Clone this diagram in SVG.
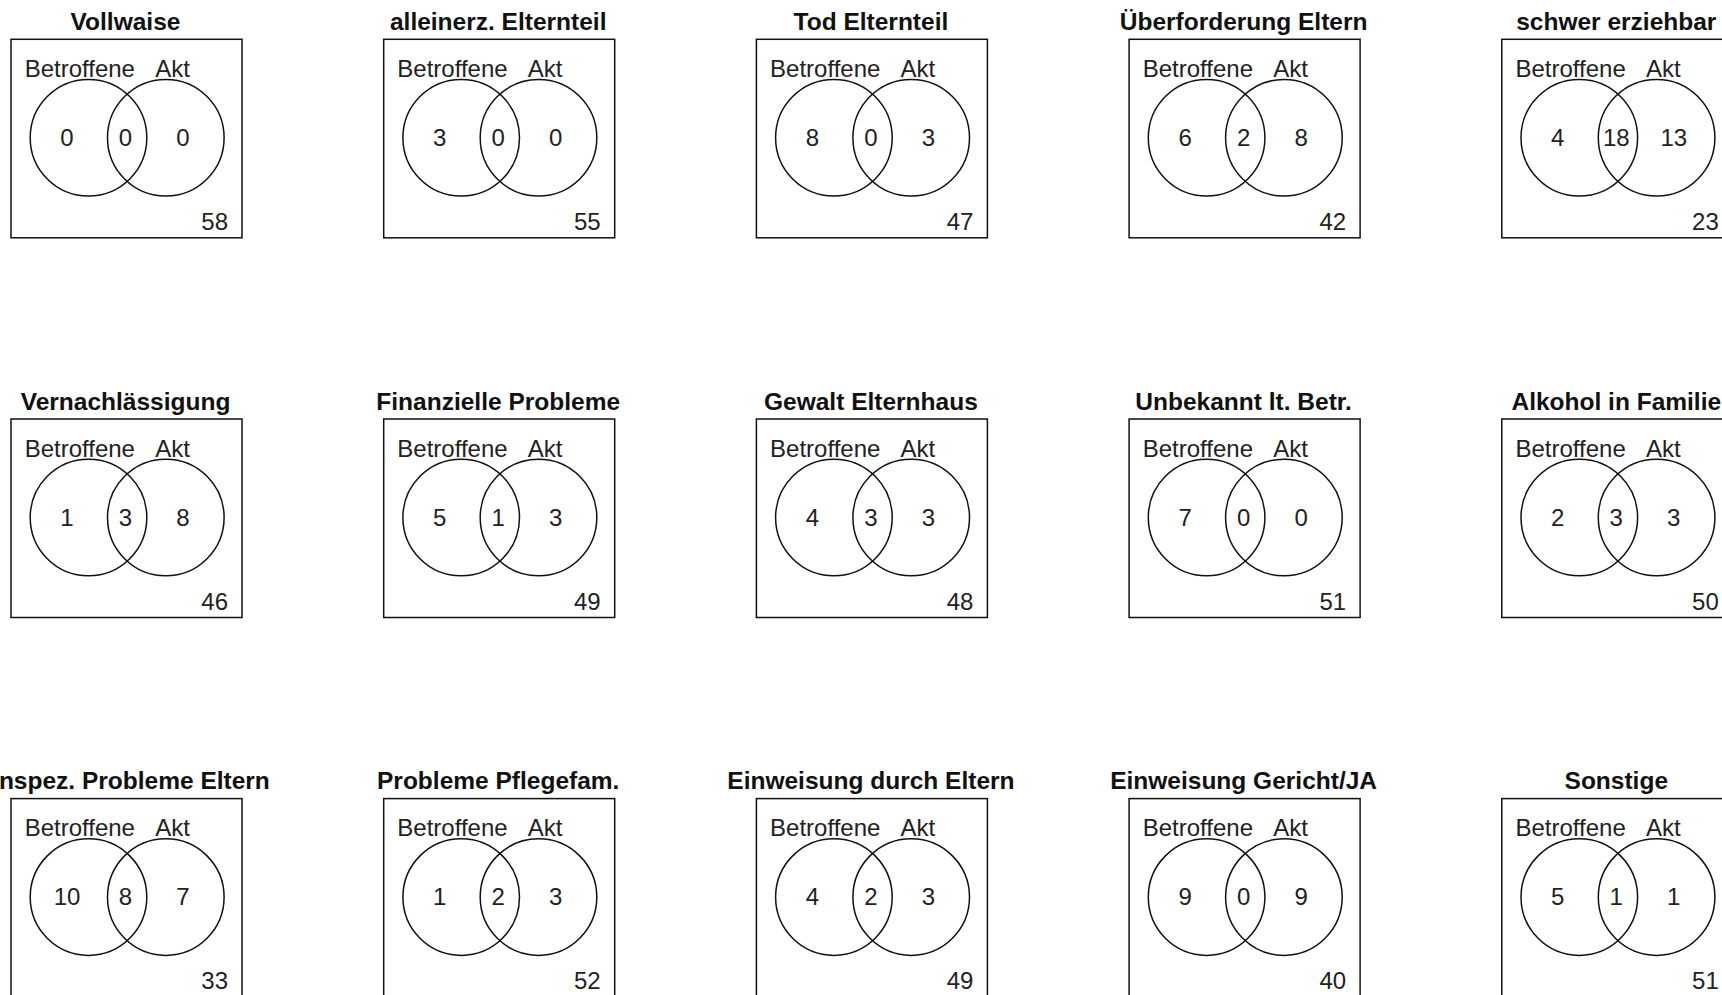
<svg xmlns="http://www.w3.org/2000/svg" width="1722" height="995" viewBox="0 0 1722 995">
  <style>
    text { font-family: "Liberation Sans", Arial, sans-serif; fill: #222; }
    .title { font-size: 24.5px; font-weight: bold; text-anchor: middle; fill: #111; }
    .set { font-size: 24px; text-anchor: middle; }
    .num { font-size: 24px; text-anchor: middle; }
    .rest { font-size: 24px; text-anchor: end; }
    .frame { fill: none; stroke: #111; stroke-width: 1.5; }
    .circ { fill: none; stroke: #111; stroke-width: 1.5; }
  </style>
  <rect width="1722" height="995" fill="#fff"/>

  <!-- Row 1 -->
  <g id="vollwaise" transform="translate(11,39.3)">
    <text class="title" x="114.5" y="-9.5">Vollwaise</text>
    <rect class="frame" x="0" y="0" width="231" height="198.5"/>
    <circle class="circ" cx="77.5" cy="98.5" r="58.3"/>
    <circle class="circ" cx="154.8" cy="98.5" r="58.3"/>
    <text class="set" x="68.8" y="37.5">Betroffene</text>
    <text class="set" x="161.5" y="37.5">Akt</text>
    <text class="num" x="56" y="106.5">0</text>
    <text class="num" x="114.5" y="106.5">0</text>
    <text class="num" x="172" y="106.5">0</text>
    <text class="rest" x="217" y="190.5">58</text>
  </g>

  <g id="alleinerz-elternteil" transform="translate(383.7,39.3)">
    <text class="title" x="114.5" y="-9.5">alleinerz. Elternteil</text>
    <rect class="frame" x="0" y="0" width="231" height="198.5"/>
    <circle class="circ" cx="77.5" cy="98.5" r="58.3"/>
    <circle class="circ" cx="154.8" cy="98.5" r="58.3"/>
    <text class="set" x="68.8" y="37.5">Betroffene</text>
    <text class="set" x="161.5" y="37.5">Akt</text>
    <text class="num" x="56" y="106.5">3</text>
    <text class="num" x="114.5" y="106.5">0</text>
    <text class="num" x="172" y="106.5">0</text>
    <text class="rest" x="217" y="190.5">55</text>
  </g>

  <g id="tod-elternteil" transform="translate(756.4,39.3)">
    <text class="title" x="114.5" y="-9.5">Tod Elternteil</text>
    <rect class="frame" x="0" y="0" width="231" height="198.5"/>
    <circle class="circ" cx="77.5" cy="98.5" r="58.3"/>
    <circle class="circ" cx="154.8" cy="98.5" r="58.3"/>
    <text class="set" x="68.8" y="37.5">Betroffene</text>
    <text class="set" x="161.5" y="37.5">Akt</text>
    <text class="num" x="56" y="106.5">8</text>
    <text class="num" x="114.5" y="106.5">0</text>
    <text class="num" x="172" y="106.5">3</text>
    <text class="rest" x="217" y="190.5">47</text>
  </g>

  <g id="ueberforderung-eltern" transform="translate(1129.1,39.3)">
    <text class="title" x="114.5" y="-9.5">Überforderung Eltern</text>
    <rect class="frame" x="0" y="0" width="231" height="198.5"/>
    <circle class="circ" cx="77.5" cy="98.5" r="58.3"/>
    <circle class="circ" cx="154.8" cy="98.5" r="58.3"/>
    <text class="set" x="68.8" y="37.5">Betroffene</text>
    <text class="set" x="161.5" y="37.5">Akt</text>
    <text class="num" x="56" y="106.5">6</text>
    <text class="num" x="114.5" y="106.5">2</text>
    <text class="num" x="172" y="106.5">8</text>
    <text class="rest" x="217" y="190.5">42</text>
  </g>

  <g id="schwer-erziehbar" transform="translate(1501.8,39.3)">
    <text class="title" x="114.5" y="-9.5">schwer erziehbar</text>
    <rect class="frame" x="0" y="0" width="231" height="198.5"/>
    <circle class="circ" cx="77.5" cy="98.5" r="58.3"/>
    <circle class="circ" cx="154.8" cy="98.5" r="58.3"/>
    <text class="set" x="68.8" y="37.5">Betroffene</text>
    <text class="set" x="161.5" y="37.5">Akt</text>
    <text class="num" x="56" y="106.5">4</text>
    <text class="num" x="114.5" y="106.5">18</text>
    <text class="num" x="172" y="106.5">13</text>
    <text class="rest" x="217" y="190.5">23</text>
  </g>

  <!-- Row 2 -->
  <g id="vernachlaessigung" transform="translate(11,419)">
    <text class="title" x="114.5" y="-9.5">Vernachlässigung</text>
    <rect class="frame" x="0" y="0" width="231" height="198.5"/>
    <circle class="circ" cx="77.5" cy="98.5" r="58.3"/>
    <circle class="circ" cx="154.8" cy="98.5" r="58.3"/>
    <text class="set" x="68.8" y="37.5">Betroffene</text>
    <text class="set" x="161.5" y="37.5">Akt</text>
    <text class="num" x="56" y="106.5">1</text>
    <text class="num" x="114.5" y="106.5">3</text>
    <text class="num" x="172" y="106.5">8</text>
    <text class="rest" x="217" y="190.5">46</text>
  </g>

  <g id="finanzielle-probleme" transform="translate(383.7,419)">
    <text class="title" x="114.5" y="-9.5">Finanzielle Probleme</text>
    <rect class="frame" x="0" y="0" width="231" height="198.5"/>
    <circle class="circ" cx="77.5" cy="98.5" r="58.3"/>
    <circle class="circ" cx="154.8" cy="98.5" r="58.3"/>
    <text class="set" x="68.8" y="37.5">Betroffene</text>
    <text class="set" x="161.5" y="37.5">Akt</text>
    <text class="num" x="56" y="106.5">5</text>
    <text class="num" x="114.5" y="106.5">1</text>
    <text class="num" x="172" y="106.5">3</text>
    <text class="rest" x="217" y="190.5">49</text>
  </g>

  <g id="gewalt-elternhaus" transform="translate(756.4,419)">
    <text class="title" x="114.5" y="-9.5">Gewalt Elternhaus</text>
    <rect class="frame" x="0" y="0" width="231" height="198.5"/>
    <circle class="circ" cx="77.5" cy="98.5" r="58.3"/>
    <circle class="circ" cx="154.8" cy="98.5" r="58.3"/>
    <text class="set" x="68.8" y="37.5">Betroffene</text>
    <text class="set" x="161.5" y="37.5">Akt</text>
    <text class="num" x="56" y="106.5">4</text>
    <text class="num" x="114.5" y="106.5">3</text>
    <text class="num" x="172" y="106.5">3</text>
    <text class="rest" x="217" y="190.5">48</text>
  </g>

  <g id="unbekannt" transform="translate(1129.1,419)">
    <text class="title" x="114.5" y="-9.5">Unbekannt lt. Betr.</text>
    <rect class="frame" x="0" y="0" width="231" height="198.5"/>
    <circle class="circ" cx="77.5" cy="98.5" r="58.3"/>
    <circle class="circ" cx="154.8" cy="98.5" r="58.3"/>
    <text class="set" x="68.8" y="37.5">Betroffene</text>
    <text class="set" x="161.5" y="37.5">Akt</text>
    <text class="num" x="56" y="106.5">7</text>
    <text class="num" x="114.5" y="106.5">0</text>
    <text class="num" x="172" y="106.5">0</text>
    <text class="rest" x="217" y="190.5">51</text>
  </g>

  <g id="alkohol-in-familie" transform="translate(1501.8,419)">
    <text class="title" x="114.5" y="-9.5">Alkohol in Familie</text>
    <rect class="frame" x="0" y="0" width="231" height="198.5"/>
    <circle class="circ" cx="77.5" cy="98.5" r="58.3"/>
    <circle class="circ" cx="154.8" cy="98.5" r="58.3"/>
    <text class="set" x="68.8" y="37.5">Betroffene</text>
    <text class="set" x="161.5" y="37.5">Akt</text>
    <text class="num" x="56" y="106.5">2</text>
    <text class="num" x="114.5" y="106.5">3</text>
    <text class="num" x="172" y="106.5">3</text>
    <text class="rest" x="217" y="190.5">50</text>
  </g>

  <!-- Row 3 -->
  <g id="unspez-probleme-eltern" transform="translate(11,798.6)">
    <text class="title" x="114.5" y="-9.5">Unspez. Probleme Eltern</text>
    <rect class="frame" x="0" y="0" width="231" height="198.5"/>
    <circle class="circ" cx="77.5" cy="98.5" r="58.3"/>
    <circle class="circ" cx="154.8" cy="98.5" r="58.3"/>
    <text class="set" x="68.8" y="37.5">Betroffene</text>
    <text class="set" x="161.5" y="37.5">Akt</text>
    <text class="num" x="56" y="106.5">10</text>
    <text class="num" x="114.5" y="106.5">8</text>
    <text class="num" x="172" y="106.5">7</text>
    <text class="rest" x="217" y="190.5">33</text>
  </g>

  <g id="probleme-pflegefam" transform="translate(383.7,798.6)">
    <text class="title" x="114.5" y="-9.5">Probleme Pflegefam.</text>
    <rect class="frame" x="0" y="0" width="231" height="198.5"/>
    <circle class="circ" cx="77.5" cy="98.5" r="58.3"/>
    <circle class="circ" cx="154.8" cy="98.5" r="58.3"/>
    <text class="set" x="68.8" y="37.5">Betroffene</text>
    <text class="set" x="161.5" y="37.5">Akt</text>
    <text class="num" x="56" y="106.5">1</text>
    <text class="num" x="114.5" y="106.5">2</text>
    <text class="num" x="172" y="106.5">3</text>
    <text class="rest" x="217" y="190.5">52</text>
  </g>

  <g id="einweisung-eltern" transform="translate(756.4,798.6)">
    <text class="title" x="114.5" y="-9.5">Einweisung durch Eltern</text>
    <rect class="frame" x="0" y="0" width="231" height="198.5"/>
    <circle class="circ" cx="77.5" cy="98.5" r="58.3"/>
    <circle class="circ" cx="154.8" cy="98.5" r="58.3"/>
    <text class="set" x="68.8" y="37.5">Betroffene</text>
    <text class="set" x="161.5" y="37.5">Akt</text>
    <text class="num" x="56" y="106.5">4</text>
    <text class="num" x="114.5" y="106.5">2</text>
    <text class="num" x="172" y="106.5">3</text>
    <text class="rest" x="217" y="190.5">49</text>
  </g>

  <g id="einweisung-gericht" transform="translate(1129.1,798.6)">
    <text class="title" x="114.5" y="-9.5">Einweisung Gericht/JA</text>
    <rect class="frame" x="0" y="0" width="231" height="198.5"/>
    <circle class="circ" cx="77.5" cy="98.5" r="58.3"/>
    <circle class="circ" cx="154.8" cy="98.5" r="58.3"/>
    <text class="set" x="68.8" y="37.5">Betroffene</text>
    <text class="set" x="161.5" y="37.5">Akt</text>
    <text class="num" x="56" y="106.5">9</text>
    <text class="num" x="114.5" y="106.5">0</text>
    <text class="num" x="172" y="106.5">9</text>
    <text class="rest" x="217" y="190.5">40</text>
  </g>

  <g id="sonstige" transform="translate(1501.8,798.6)">
    <text class="title" x="114.5" y="-9.5">Sonstige</text>
    <rect class="frame" x="0" y="0" width="231" height="198.5"/>
    <circle class="circ" cx="77.5" cy="98.5" r="58.3"/>
    <circle class="circ" cx="154.8" cy="98.5" r="58.3"/>
    <text class="set" x="68.8" y="37.5">Betroffene</text>
    <text class="set" x="161.5" y="37.5">Akt</text>
    <text class="num" x="56" y="106.5">5</text>
    <text class="num" x="114.5" y="106.5">1</text>
    <text class="num" x="172" y="106.5">1</text>
    <text class="rest" x="217" y="190.5">51</text>
  </g>

  <!-- no connectors between panels -->
  <g id="connectors"/>
</svg>
